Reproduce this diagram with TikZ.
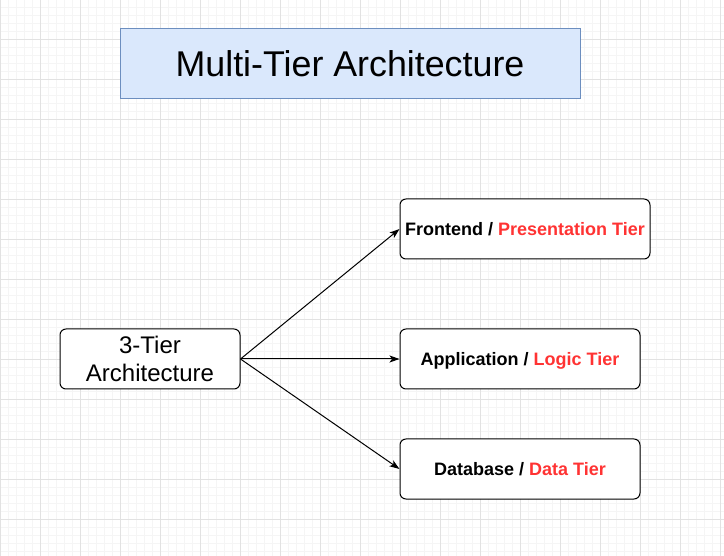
\documentclass[tikz,border=0pt]{standalone}
\usepackage{fontspec}
\setmainfont{Liberation Sans}
\usetikzlibrary{positioning,arrows.meta}
\definecolor{titlefill}{HTML}{DAE8FC}
\definecolor{titledraw}{HTML}{6C8EBF}
\definecolor{tierred}{HTML}{FF3333}
\definecolor{gridminor}{HTML}{F5F5F5}
\definecolor{gridmajor}{HTML}{E2E2E2}

\begin{document}
\begin{tikzpicture}[x=1pt, y=-1pt,
      titlebox/.style={draw=titledraw, fill=titlefill, line width=1pt,
      minimum width=460pt, minimum height=70pt,
      font=\fontsize{35.8}{42}\selectfont},
      mainbox/.style={draw, rounded corners=6pt, line width=1pt, fill=white,
      minimum width=180pt, minimum height=60pt, align=center,
      font=\fontsize{24}{28}\selectfont},
      tierbox/.style={draw, rounded corners=6pt, line width=1pt, fill=white,
      minimum width=240pt, minimum height=60pt, text depth=0pt,
      font=\fontsize{18}{21}\selectfont\bfseries},
      link/.style={-{Stealth[length=10pt, width=7pt, inset=2.5pt]}, line width=1pt},
    ]
    \useasboundingbox (0,0) rectangle (724,556);
    \fill[white] (0,0) rectangle (724,556);

    % Grid
    \foreach \x in {0,8,...,720} \draw[gridminor, line width=0.8pt] (\x+0.5,0) -- (\x+0.5,556);
    \foreach \y in {0,8,...,552} \draw[gridminor, line width=0.8pt] (0,\y-0.5) -- (724,\y-0.5);
    \foreach \x in {0,40,...,720} \draw[gridmajor, line width=1pt] (\x+0.5,0) -- (\x+0.5,556);
    \foreach \y in {0,40,...,552} \draw[gridmajor, line width=1pt] (0,\y-0.5) -- (724,\y-0.5);

    \node[titlebox] (title) at (350, 64) {Multi-Tier Architecture};

    \node[mainbox] (tier3) at (150, 359) {3-Tier\\Architecture};
    \node[tierbox, minimum width=250pt] (front) at (525, 229)
      {Frontend / \textcolor{tierred}{Presentation Tier}};
    \node[tierbox] (app) at (520, 359)
      {Application / \textcolor{tierred}{Logic Tier}};
    \node[tierbox] (db) at (520, 469)
      {Database / \textcolor{tierred}{Data Tier}};

    \draw[link] (tier3.east) -- (front.west);
    \draw[link] (tier3.east) -- (app.west);
    \draw[link] (tier3.east) -- (db.west);
  \end{tikzpicture}
\end{document}
